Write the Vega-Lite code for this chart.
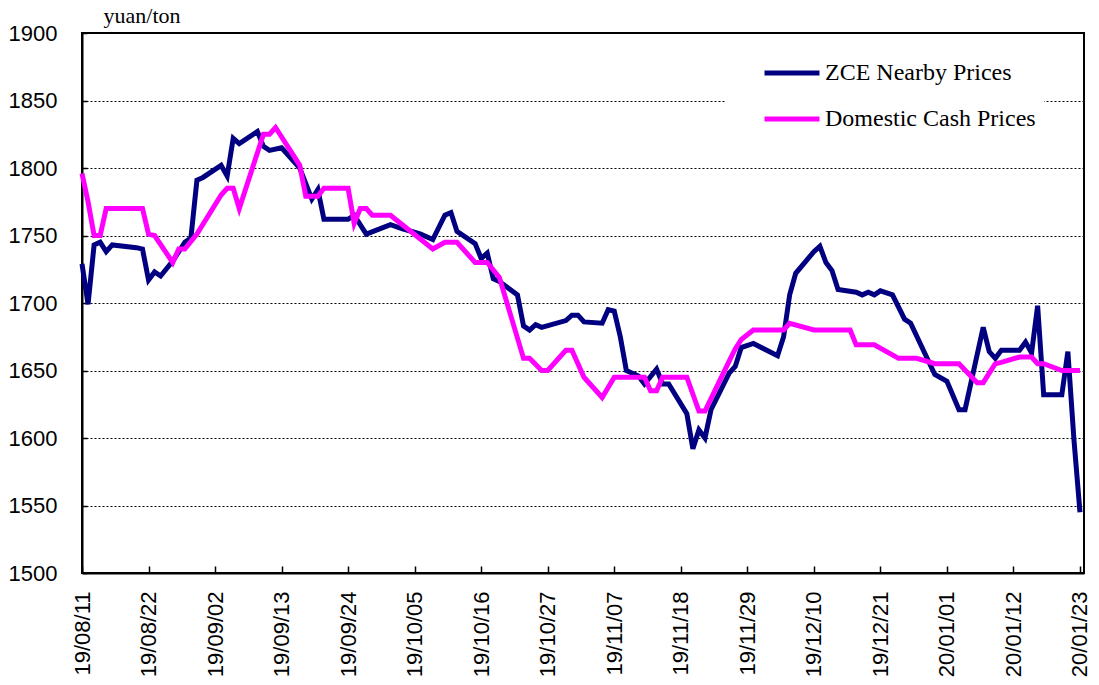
{
  "$schema": "https://vega.github.io/schema/vega-lite/v6.json",
  "width": 1002,
  "height": 540,
  "autosize": {"type": "none"},
  "padding": {"left": 82, "top": 33, "right": 15, "bottom": 112},
  "background": "white",
  "config": {
    "view": {"stroke": "black", "strokeWidth": 2},
    "axis": {"labelColor": "black", "domainColor": "black", "tickColor": "black"}
  },
  "data": {"values": [
    {"date": "2019-08-11", "series": "ZCE Nearby Prices", "price": 1729},
    {"date": "2019-08-12", "series": "ZCE Nearby Prices", "price": 1699},
    {"date": "2019-08-13", "series": "ZCE Nearby Prices", "price": 1743},
    {"date": "2019-08-14", "series": "ZCE Nearby Prices", "price": 1745},
    {"date": "2019-08-15", "series": "ZCE Nearby Prices", "price": 1738},
    {"date": "2019-08-16", "series": "ZCE Nearby Prices", "price": 1743},
    {"date": "2019-08-20", "series": "ZCE Nearby Prices", "price": 1741},
    {"date": "2019-08-21", "series": "ZCE Nearby Prices", "price": 1740},
    {"date": "2019-08-22", "series": "ZCE Nearby Prices", "price": 1717},
    {"date": "2019-08-23", "series": "ZCE Nearby Prices", "price": 1723},
    {"date": "2019-08-24", "series": "ZCE Nearby Prices", "price": 1720},
    {"date": "2019-08-26", "series": "ZCE Nearby Prices", "price": 1731},
    {"date": "2019-08-28", "series": "ZCE Nearby Prices", "price": 1745},
    {"date": "2019-08-29", "series": "ZCE Nearby Prices", "price": 1748},
    {"date": "2019-08-30", "series": "ZCE Nearby Prices", "price": 1791},
    {"date": "2019-08-31", "series": "ZCE Nearby Prices", "price": 1793},
    {"date": "2019-09-03", "series": "ZCE Nearby Prices", "price": 1802},
    {"date": "2019-09-04", "series": "ZCE Nearby Prices", "price": 1794},
    {"date": "2019-09-05", "series": "ZCE Nearby Prices", "price": 1822},
    {"date": "2019-09-06", "series": "ZCE Nearby Prices", "price": 1818},
    {"date": "2019-09-09", "series": "ZCE Nearby Prices", "price": 1827},
    {"date": "2019-09-10", "series": "ZCE Nearby Prices", "price": 1816},
    {"date": "2019-09-11", "series": "ZCE Nearby Prices", "price": 1813},
    {"date": "2019-09-13", "series": "ZCE Nearby Prices", "price": 1815},
    {"date": "2019-09-16", "series": "ZCE Nearby Prices", "price": 1800},
    {"date": "2019-09-18", "series": "ZCE Nearby Prices", "price": 1777},
    {"date": "2019-09-19", "series": "ZCE Nearby Prices", "price": 1784},
    {"date": "2019-09-20", "series": "ZCE Nearby Prices", "price": 1762},
    {"date": "2019-09-24", "series": "ZCE Nearby Prices", "price": 1762},
    {"date": "2019-09-25", "series": "ZCE Nearby Prices", "price": 1765},
    {"date": "2019-09-27", "series": "ZCE Nearby Prices", "price": 1751},
    {"date": "2019-10-01", "series": "ZCE Nearby Prices", "price": 1758},
    {"date": "2019-10-03", "series": "ZCE Nearby Prices", "price": 1755},
    {"date": "2019-10-06", "series": "ZCE Nearby Prices", "price": 1751},
    {"date": "2019-10-08", "series": "ZCE Nearby Prices", "price": 1747},
    {"date": "2019-10-10", "series": "ZCE Nearby Prices", "price": 1765},
    {"date": "2019-10-11", "series": "ZCE Nearby Prices", "price": 1767},
    {"date": "2019-10-12", "series": "ZCE Nearby Prices", "price": 1753},
    {"date": "2019-10-15", "series": "ZCE Nearby Prices", "price": 1744},
    {"date": "2019-10-16", "series": "ZCE Nearby Prices", "price": 1733},
    {"date": "2019-10-17", "series": "ZCE Nearby Prices", "price": 1737},
    {"date": "2019-10-18", "series": "ZCE Nearby Prices", "price": 1718},
    {"date": "2019-10-19", "series": "ZCE Nearby Prices", "price": 1716},
    {"date": "2019-10-22", "series": "ZCE Nearby Prices", "price": 1706},
    {"date": "2019-10-23", "series": "ZCE Nearby Prices", "price": 1683},
    {"date": "2019-10-24", "series": "ZCE Nearby Prices", "price": 1680},
    {"date": "2019-10-25", "series": "ZCE Nearby Prices", "price": 1684},
    {"date": "2019-10-26", "series": "ZCE Nearby Prices", "price": 1682},
    {"date": "2019-10-30", "series": "ZCE Nearby Prices", "price": 1687},
    {"date": "2019-10-31", "series": "ZCE Nearby Prices", "price": 1691},
    {"date": "2019-11-01", "series": "ZCE Nearby Prices", "price": 1691},
    {"date": "2019-11-02", "series": "ZCE Nearby Prices", "price": 1686},
    {"date": "2019-11-05", "series": "ZCE Nearby Prices", "price": 1685},
    {"date": "2019-11-06", "series": "ZCE Nearby Prices", "price": 1695},
    {"date": "2019-11-07", "series": "ZCE Nearby Prices", "price": 1694},
    {"date": "2019-11-08", "series": "ZCE Nearby Prices", "price": 1675},
    {"date": "2019-11-09", "series": "ZCE Nearby Prices", "price": 1650},
    {"date": "2019-11-11", "series": "ZCE Nearby Prices", "price": 1646},
    {"date": "2019-11-12", "series": "ZCE Nearby Prices", "price": 1640},
    {"date": "2019-11-14", "series": "ZCE Nearby Prices", "price": 1651},
    {"date": "2019-11-15", "series": "ZCE Nearby Prices", "price": 1640},
    {"date": "2019-11-16", "series": "ZCE Nearby Prices", "price": 1640},
    {"date": "2019-11-19", "series": "ZCE Nearby Prices", "price": 1618},
    {"date": "2019-11-20", "series": "ZCE Nearby Prices", "price": 1592},
    {"date": "2019-11-21", "series": "ZCE Nearby Prices", "price": 1606},
    {"date": "2019-11-22", "series": "ZCE Nearby Prices", "price": 1600},
    {"date": "2019-11-23", "series": "ZCE Nearby Prices", "price": 1621},
    {"date": "2019-11-26", "series": "ZCE Nearby Prices", "price": 1648},
    {"date": "2019-11-27", "series": "ZCE Nearby Prices", "price": 1653},
    {"date": "2019-11-28", "series": "ZCE Nearby Prices", "price": 1667},
    {"date": "2019-11-30", "series": "ZCE Nearby Prices", "price": 1670},
    {"date": "2019-12-04", "series": "ZCE Nearby Prices", "price": 1661},
    {"date": "2019-12-05", "series": "ZCE Nearby Prices", "price": 1675},
    {"date": "2019-12-06", "series": "ZCE Nearby Prices", "price": 1706},
    {"date": "2019-12-07", "series": "ZCE Nearby Prices", "price": 1722},
    {"date": "2019-12-10", "series": "ZCE Nearby Prices", "price": 1738},
    {"date": "2019-12-11", "series": "ZCE Nearby Prices", "price": 1742},
    {"date": "2019-12-12", "series": "ZCE Nearby Prices", "price": 1730},
    {"date": "2019-12-13", "series": "ZCE Nearby Prices", "price": 1724},
    {"date": "2019-12-14", "series": "ZCE Nearby Prices", "price": 1710},
    {"date": "2019-12-17", "series": "ZCE Nearby Prices", "price": 1708},
    {"date": "2019-12-18", "series": "ZCE Nearby Prices", "price": 1706},
    {"date": "2019-12-19", "series": "ZCE Nearby Prices", "price": 1708},
    {"date": "2019-12-20", "series": "ZCE Nearby Prices", "price": 1706},
    {"date": "2019-12-21", "series": "ZCE Nearby Prices", "price": 1709},
    {"date": "2019-12-23", "series": "ZCE Nearby Prices", "price": 1706},
    {"date": "2019-12-25", "series": "ZCE Nearby Prices", "price": 1688},
    {"date": "2019-12-26", "series": "ZCE Nearby Prices", "price": 1685},
    {"date": "2019-12-30", "series": "ZCE Nearby Prices", "price": 1647},
    {"date": "2020-01-01", "series": "ZCE Nearby Prices", "price": 1642},
    {"date": "2020-01-03", "series": "ZCE Nearby Prices", "price": 1621},
    {"date": "2020-01-04", "series": "ZCE Nearby Prices", "price": 1621},
    {"date": "2020-01-07", "series": "ZCE Nearby Prices", "price": 1682},
    {"date": "2020-01-08", "series": "ZCE Nearby Prices", "price": 1664},
    {"date": "2020-01-09", "series": "ZCE Nearby Prices", "price": 1659},
    {"date": "2020-01-10", "series": "ZCE Nearby Prices", "price": 1665},
    {"date": "2020-01-13", "series": "ZCE Nearby Prices", "price": 1665},
    {"date": "2020-01-14", "series": "ZCE Nearby Prices", "price": 1671},
    {"date": "2020-01-15", "series": "ZCE Nearby Prices", "price": 1663},
    {"date": "2020-01-16", "series": "ZCE Nearby Prices", "price": 1698},
    {"date": "2020-01-17", "series": "ZCE Nearby Prices", "price": 1632},
    {"date": "2020-01-20", "series": "ZCE Nearby Prices", "price": 1632},
    {"date": "2020-01-21", "series": "ZCE Nearby Prices", "price": 1664},
    {"date": "2020-01-22", "series": "ZCE Nearby Prices", "price": 1599},
    {"date": "2020-01-23", "series": "ZCE Nearby Prices", "price": 1545},
    {"date": "2019-08-11", "series": "Domestic Cash Prices", "price": 1796},
    {"date": "2019-08-12", "series": "Domestic Cash Prices", "price": 1775},
    {"date": "2019-08-13", "series": "Domestic Cash Prices", "price": 1750},
    {"date": "2019-08-14", "series": "Domestic Cash Prices", "price": 1750},
    {"date": "2019-08-15", "series": "Domestic Cash Prices", "price": 1770},
    {"date": "2019-08-21", "series": "Domestic Cash Prices", "price": 1770},
    {"date": "2019-08-22", "series": "Domestic Cash Prices", "price": 1751},
    {"date": "2019-08-23", "series": "Domestic Cash Prices", "price": 1750},
    {"date": "2019-08-26", "series": "Domestic Cash Prices", "price": 1730},
    {"date": "2019-08-27", "series": "Domestic Cash Prices", "price": 1740},
    {"date": "2019-08-28", "series": "Domestic Cash Prices", "price": 1740},
    {"date": "2019-08-30", "series": "Domestic Cash Prices", "price": 1751},
    {"date": "2019-09-03", "series": "Domestic Cash Prices", "price": 1780},
    {"date": "2019-09-04", "series": "Domestic Cash Prices", "price": 1785},
    {"date": "2019-09-05", "series": "Domestic Cash Prices", "price": 1785},
    {"date": "2019-09-06", "series": "Domestic Cash Prices", "price": 1770},
    {"date": "2019-09-10", "series": "Domestic Cash Prices", "price": 1825},
    {"date": "2019-09-11", "series": "Domestic Cash Prices", "price": 1825},
    {"date": "2019-09-12", "series": "Domestic Cash Prices", "price": 1830},
    {"date": "2019-09-16", "series": "Domestic Cash Prices", "price": 1802},
    {"date": "2019-09-17", "series": "Domestic Cash Prices", "price": 1779},
    {"date": "2019-09-19", "series": "Domestic Cash Prices", "price": 1779},
    {"date": "2019-09-20", "series": "Domestic Cash Prices", "price": 1785},
    {"date": "2019-09-24", "series": "Domestic Cash Prices", "price": 1785},
    {"date": "2019-09-25", "series": "Domestic Cash Prices", "price": 1759},
    {"date": "2019-09-26", "series": "Domestic Cash Prices", "price": 1770},
    {"date": "2019-09-27", "series": "Domestic Cash Prices", "price": 1770},
    {"date": "2019-09-28", "series": "Domestic Cash Prices", "price": 1765},
    {"date": "2019-10-01", "series": "Domestic Cash Prices", "price": 1765},
    {"date": "2019-10-08", "series": "Domestic Cash Prices", "price": 1740},
    {"date": "2019-10-10", "series": "Domestic Cash Prices", "price": 1745},
    {"date": "2019-10-12", "series": "Domestic Cash Prices", "price": 1745},
    {"date": "2019-10-15", "series": "Domestic Cash Prices", "price": 1730},
    {"date": "2019-10-17", "series": "Domestic Cash Prices", "price": 1730},
    {"date": "2019-10-19", "series": "Domestic Cash Prices", "price": 1719},
    {"date": "2019-10-23", "series": "Domestic Cash Prices", "price": 1659},
    {"date": "2019-10-24", "series": "Domestic Cash Prices", "price": 1659},
    {"date": "2019-10-26", "series": "Domestic Cash Prices", "price": 1650},
    {"date": "2019-10-27", "series": "Domestic Cash Prices", "price": 1650},
    {"date": "2019-10-30", "series": "Domestic Cash Prices", "price": 1665},
    {"date": "2019-10-31", "series": "Domestic Cash Prices", "price": 1665},
    {"date": "2019-11-02", "series": "Domestic Cash Prices", "price": 1645},
    {"date": "2019-11-05", "series": "Domestic Cash Prices", "price": 1630},
    {"date": "2019-11-07", "series": "Domestic Cash Prices", "price": 1645},
    {"date": "2019-11-12", "series": "Domestic Cash Prices", "price": 1645},
    {"date": "2019-11-13", "series": "Domestic Cash Prices", "price": 1635},
    {"date": "2019-11-14", "series": "Domestic Cash Prices", "price": 1635},
    {"date": "2019-11-15", "series": "Domestic Cash Prices", "price": 1645},
    {"date": "2019-11-19", "series": "Domestic Cash Prices", "price": 1645},
    {"date": "2019-11-21", "series": "Domestic Cash Prices", "price": 1620},
    {"date": "2019-11-22", "series": "Domestic Cash Prices", "price": 1620},
    {"date": "2019-11-26", "series": "Domestic Cash Prices", "price": 1657},
    {"date": "2019-11-27", "series": "Domestic Cash Prices", "price": 1666},
    {"date": "2019-11-28", "series": "Domestic Cash Prices", "price": 1673},
    {"date": "2019-11-30", "series": "Domestic Cash Prices", "price": 1680},
    {"date": "2019-12-05", "series": "Domestic Cash Prices", "price": 1680},
    {"date": "2019-12-06", "series": "Domestic Cash Prices", "price": 1685},
    {"date": "2019-12-10", "series": "Domestic Cash Prices", "price": 1680},
    {"date": "2019-12-16", "series": "Domestic Cash Prices", "price": 1680},
    {"date": "2019-12-17", "series": "Domestic Cash Prices", "price": 1669},
    {"date": "2019-12-20", "series": "Domestic Cash Prices", "price": 1669},
    {"date": "2019-12-24", "series": "Domestic Cash Prices", "price": 1659},
    {"date": "2019-12-27", "series": "Domestic Cash Prices", "price": 1659},
    {"date": "2019-12-30", "series": "Domestic Cash Prices", "price": 1655},
    {"date": "2020-01-03", "series": "Domestic Cash Prices", "price": 1655},
    {"date": "2020-01-06", "series": "Domestic Cash Prices", "price": 1641},
    {"date": "2020-01-07", "series": "Domestic Cash Prices", "price": 1641},
    {"date": "2020-01-09", "series": "Domestic Cash Prices", "price": 1655},
    {"date": "2020-01-10", "series": "Domestic Cash Prices", "price": 1656},
    {"date": "2020-01-13", "series": "Domestic Cash Prices", "price": 1660},
    {"date": "2020-01-15", "series": "Domestic Cash Prices", "price": 1660},
    {"date": "2020-01-16", "series": "Domestic Cash Prices", "price": 1655},
    {"date": "2020-01-17", "series": "Domestic Cash Prices", "price": 1655},
    {"date": "2020-01-20", "series": "Domestic Cash Prices", "price": 1650},
    {"date": "2020-01-23", "series": "Domestic Cash Prices", "price": 1650}
  ]},
  "encoding": {
    "x": {
      "field": "date", "type": "temporal",
      "scale": {"type": "utc", "domain": [
        {"year": 2019, "month": 8, "date": 11, "utc": true},
        {"year": 2020, "month": 1, "date": 23, "hours": 16, "utc": true}
      ]},
      "axis": {
        "title": null,
        "format": "%y/%m/%d",
        "values": [
          {"year": 2019, "month": 8, "date": 11, "utc": true},
          {"year": 2019, "month": 8, "date": 22, "utc": true},
          {"year": 2019, "month": 9, "date": 2, "utc": true},
          {"year": 2019, "month": 9, "date": 13, "utc": true},
          {"year": 2019, "month": 9, "date": 24, "utc": true},
          {"year": 2019, "month": 10, "date": 5, "utc": true},
          {"year": 2019, "month": 10, "date": 16, "utc": true},
          {"year": 2019, "month": 10, "date": 27, "utc": true},
          {"year": 2019, "month": 11, "date": 7, "utc": true},
          {"year": 2019, "month": 11, "date": 18, "utc": true},
          {"year": 2019, "month": 11, "date": 29, "utc": true},
          {"year": 2019, "month": 12, "date": 10, "utc": true},
          {"year": 2019, "month": 12, "date": 21, "utc": true},
          {"year": 2020, "month": 1, "date": 1, "utc": true},
          {"year": 2020, "month": 1, "date": 12, "utc": true},
          {"year": 2020, "month": 1, "date": 23, "utc": true}
        ],
        "labelAngle": 270,
        "labelFont": "Liberation Sans",
        "labelFontSize": 22,
        "labelOverlap": false,
        "labelFlush": false,
        "labelPadding": 25,
        "tickSize": -7,
        "tickWidth": 1.5,
        "domainWidth": 2,
        "grid": false
      }
    },
    "y": {
      "field": "price", "type": "quantitative",
      "scale": {"domain": [1500, 1900], "nice": false, "zero": false},
      "axis": {
        "values": [1500, 1550, 1600, 1650, 1700, 1750, 1800, 1850, 1900],
        "format": "d",
        "labelFont": "Liberation Sans",
        "labelFontSize": 22,
        "labelPadding": 30,
        "tickSize": -5,
        "tickWidth": 1.5,
        "domainWidth": 2,
        "grid": true,
        "gridColor": "black",
        "gridDash": [2, 2],
        "gridWidth": 1,
        "gridOpacity": 1,
        "title": "yuan/ton",
        "titleAngle": 0,
        "titleFont": "Liberation Serif",
        "titleFontSize": 22,
        "titleFontWeight": "normal",
        "titleColor": "black",
        "titleAlign": "left",
        "titleBaseline": "alphabetic",
        "titleX": 21,
        "titleY": -11
      }
    },
    "color": {
      "field": "series", "type": "nominal",
      "scale": {"domain": ["ZCE Nearby Prices", "Domestic Cash Prices"], "range": ["#000080", "#FF00FF"]},
      "legend": {
        "orient": "none",
        "legendX": 643,
        "legendY": 2,
        "title": null,
        "fillColor": "white",
        "padding": 8,
        "symbolOffset": 29,
        "symbolType": "stroke",
        "symbolSize": 3025,
        "symbolStrokeWidth": 5,
        "labelFont": "Liberation Serif",
        "labelFontSize": 24,
        "labelColor": "black",
        "labelOffset": 3,
        "labelLimit": 400,
        "rowPadding": 4
      }
    }
  },
  "layer": [
    {
      "transform": [{"filter": "datum.series === 'ZCE Nearby Prices'"}],
      "mark": {"type": "line", "strokeWidth": 5, "strokeJoin": "miter"}
    },
    {
      "transform": [{"filter": "datum.series === 'Domestic Cash Prices'"}],
      "mark": {"type": "line", "strokeWidth": 5, "strokeJoin": "miter"}
    }
  ]
}
